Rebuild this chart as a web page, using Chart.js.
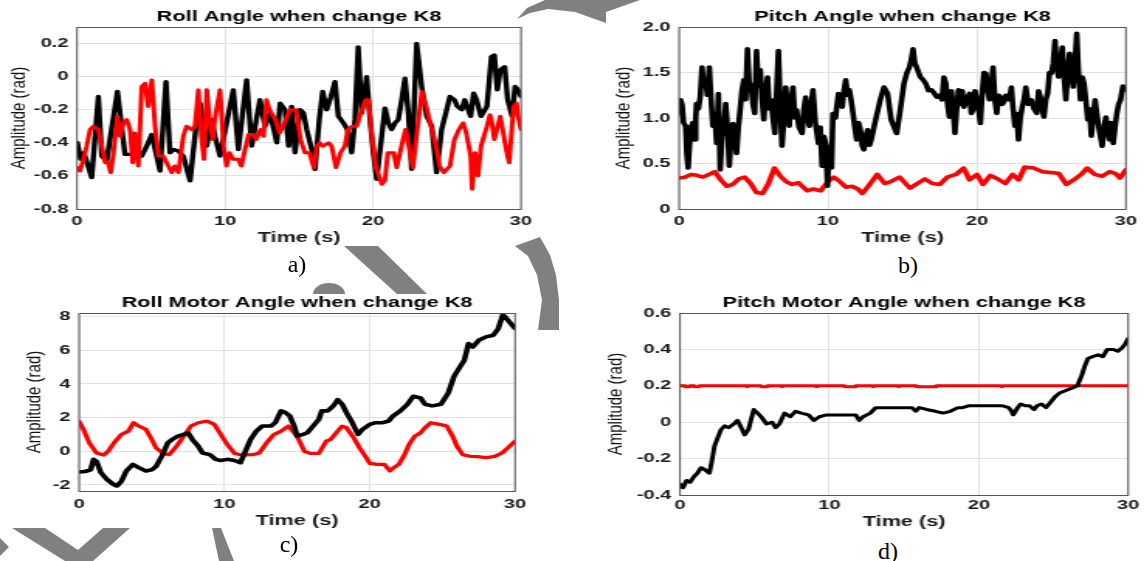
<!DOCTYPE html>
<html>
<head>
<meta charset="utf-8">
<script src="https://cdn.jsdelivr.net/npm/chart.js@4.4.1/dist/chart.umd.min.js"></script>
<style>
  html, body { margin: 0; padding: 0; background: #fff; }
  #page { position: relative; width: 1144px; height: 561px; overflow: hidden; background: #fff; }
  #marks { position: absolute; left: 0; top: 0; }
  .panel { position: absolute; transform-origin: 0 0; transform: scaleX(1.55); }
  .panel canvas { display: block; }
  .cap { position: absolute; font-family: "Liberation Serif", "Times New Roman", serif; font-size: 24px;
         line-height: 1; transform: translate(-50%, -50%); color: #000; }
</style>
</head>
<body>
<div id="page">
  <!-- grey marks of the background, behind the figures -->
  <svg id="marks" width="1144" height="561">
    <g fill="#808080">
      <polygon points="344,246 378,246 427,294 397,294"/>
      <path d="M313,294 A16,11 0 0 1 345,294 Z"/>
      <polygon points="515,246 540,237 550,255 556,275 559,300 559,330 538,330 542,300 537,275 528,256"/>
      <polygon points="517,19 527,8 545,0 640,0 606,12 606,23 575,12 548,9 530,13"/>
      <path fill-rule="evenodd" d="M12,528 L130,528 L93,561 L65,561 Z M45,528 L103,528 L78,550 Z"/>
      <polygon points="0,538 9,547 0,556"/>
      <polygon points="212,528 221,528 234,561 219,561"/>
    </g>
  </svg>
  <div class="panel" style="left:0px;top:0px"><canvas id="chartA" width="348" height="252"></canvas></div>
  <div class="panel" style="left:600px;top:0px"><canvas id="chartB" width="351" height="252"></canvas></div>
  <div class="panel" style="left:0px;top:280px"><canvas id="chartC" width="345" height="255"></canvas></div>
  <div class="panel" style="left:600px;top:280px"><canvas id="chartD" width="351" height="256"></canvas></div>
  <div class="cap" style="left:297px;top:264px">a)</div>
  <div class="cap" style="left:908px;top:265px">b)</div>
  <div class="cap" style="left:289px;top:544px">c)</div>
  <div class="cap" style="left:888px;top:551px">d)</div>
</div>
<script>
// ---- a) Roll Angle
const rollBlackT = [0.02, 0.25, 0.47, 0.99, 1.44, 1.67, 2.0, 2.73, 3.24, 3.58, 4.37, 4.71, 5.05, 5.61, 6.01, 6.28, 6.51, 6.85, 7.18, 7.64,
  8.09, 8.31, 8.54, 8.76, 9.1, 9.32, 9.66, 10.56, 10.9, 11.46, 11.8, 12.36, 12.7, 13.04, 13.5, 13.72, 14.05, 14.3, 14.5, 14.73,
  15.07, 15.3, 15.52, 15.86, 16.08, 16.37, 16.6, 16.87, 17.16, 17.43, 17.66, 18.0, 18.27, 18.56, 18.78, 19.0, 19.23, 19.57, 19.8, 20.02,
  20.25, 20.59, 20.81, 21.04, 21.26, 21.49, 21.71, 21.94, 22.16, 22.39, 22.61, 22.95, 23.29, 23.63, 23.97, 24.3, 24.64, 24.98, 25.2, 25.5,
  25.7, 26.0, 26.2, 26.6, 26.8, 27.0, 27.3, 27.7, 28.0, 28.2, 28.4, 28.6, 28.9, 29.1, 29.4, 29.6, 29.8, 30];
const rollBlack = [-0.40, -0.50, -0.46, -0.61, -0.12, -0.48, -0.51, -0.09, -0.47, -0.47, -0.48, -0.42, -0.35, -0.57, -0.03, -0.46, -0.44, -0.45, -0.48, -0.63,
  -0.26, -0.16, -0.30, -0.42, -0.26, -0.36, -0.48, -0.08, -0.44, -0.02, -0.42, -0.14, -0.30, -0.22, -0.40, -0.16, -0.20, -0.42, -0.18, -0.46,
  -0.20, -0.22, -0.32, -0.44, -0.56, -0.26, -0.09, -0.20, -0.12, -0.03, -0.24, -0.28, -0.32, -0.46, -0.26, 0.18, -0.22, 0.00, -0.26, -0.46,
  -0.62, -0.36, -0.19, -0.28, -0.32, -0.28, -0.26, -0.14, -0.01, -0.22, -0.56, 0.20, -0.06, -0.24, -0.30, -0.58, -0.32, -0.20, -0.12, -0.14,
  -0.18, -0.20, -0.14, -0.24, -0.10, -0.14, -0.24, -0.18, 0.12, 0.13, -0.08, 0.04, 0.06, -0.14, -0.24, -0.06, -0.08, -0.12];
const rollRedT = [0.02, 0.2, 0.43, 0.65, 0.88, 1.1, 1.44, 1.67, 1.9, 2.1, 2.27, 2.45, 2.73, 2.9, 3.13, 3.36, 3.58, 3.76, 3.9, 4.14,
  4.37, 4.6, 4.8, 5.05, 5.27, 5.5, 5.83, 6.06, 6.4, 6.6, 6.85, 7.18, 7.4, 7.75, 7.97, 8.2, 8.4, 8.58, 8.76, 9.0,
  9.17, 9.3, 9.66, 9.9, 10.1, 10.3, 10.56, 10.9, 11.1, 11.35, 11.6, 11.9, 12.1, 12.4, 12.6, 12.8, 13.0, 13.4, 13.7, 14.0,
  14.4, 14.8, 15.1, 15.4, 15.7, 16.0, 16.2, 16.4, 16.6, 17.0, 17.2, 17.5, 17.8, 18.1, 18.3, 18.6, 18.9, 19.1, 19.5, 19.7,
  19.9, 20.2, 20.6, 20.8, 21.0, 21.4, 21.6, 22.0, 22.2, 22.5, 22.7, 23.1, 23.3, 23.6, 23.8, 24.1, 24.3, 24.5, 24.8, 25.2,
  25.5, 25.8, 26.1, 26.3, 26.6, 26.7, 26.9, 27.1, 27.3, 27.7, 27.9, 28.0, 28.2, 28.6, 28.8, 29.0, 29.2, 29.5, 29.7, 29.8, 30];
const rollRed = [-0.55, -0.57, -0.50, -0.42, -0.32, -0.30, -0.32, -0.42, -0.52, -0.52, -0.58, -0.47, -0.24, -0.36, -0.28, -0.26, -0.32, -0.52, -0.34, -0.54,
  -0.06, -0.04, -0.18, -0.02, -0.30, -0.48, -0.48, -0.52, -0.58, -0.54, -0.58, -0.36, -0.30, -0.32, -0.30, -0.08, -0.36, -0.50, -0.08, -0.30,
  -0.38, -0.26, -0.08, -0.42, -0.54, -0.46, -0.50, -0.50, -0.54, -0.44, -0.35, -0.35, -0.38, -0.32, -0.36, -0.14, -0.20, -0.26, -0.34, -0.28,
  -0.20, -0.20, -0.38, -0.46, -0.46, -0.55, -0.42, -0.40, -0.42, -0.40, -0.42, -0.55, -0.46, -0.42, -0.32, -0.30, -0.30, -0.24, -0.14, -0.14,
  -0.34, -0.55, -0.65, -0.63, -0.46, -0.46, -0.55, -0.39, -0.32, -0.46, -0.55, -0.24, -0.09, -0.18, -0.26, -0.36, -0.44, -0.54, -0.58, -0.54,
  -0.38, -0.32, -0.28, -0.34, -0.48, -0.68, -0.46, -0.60, -0.42, -0.30, -0.23, -0.26, -0.38, -0.24, -0.34, -0.44, -0.52, -0.18, -0.16, -0.24, -0.32];

// ---- b) Pitch Angle
const pitchBlackT = [0, 0.1, 0.2, 0.3, 0.44, 0.52, 0.61, 0.7, 0.81, 0.92, 1.05, 1.12, 1.17, 1.3, 1.42, 1.54, 1.65, 1.78, 1.9, 2.03,
  2.15, 2.27, 2.4, 2.52, 2.64, 2.76, 2.88, 3.0, 3.13, 3.25, 3.37, 3.5, 3.62, 3.75, 3.86, 3.98, 4.1, 4.22, 4.35, 4.47,
  4.59, 4.7, 4.84, 4.96, 5.08, 5.2, 5.32, 5.45, 5.57, 5.69, 5.82, 5.94, 6.06, 6.18, 6.3, 6.43, 6.55, 6.67, 6.8, 6.91,
  7.04, 7.16, 7.28, 7.4, 7.52, 7.65, 7.77, 7.89, 8.05, 8.26, 8.38, 8.5, 8.62, 8.75, 8.87, 8.99, 9.15, 9.36, 9.48, 9.6,
  9.72, 9.85, 9.97, 10.05, 10.14, 10.24, 10.33, 10.5, 10.7, 10.82, 10.95, 11.07, 11.19, 11.31, 11.43, 11.55, 11.68, 11.8, 11.92, 12.05,
  12.17, 12.29, 12.41, 12.53, 12.66, 12.78, 12.9, 13.14, 13.51, 13.76, 14.0, 14.24, 14.61, 14.85, 15.1, 15.3, 15.47, 15.6, 15.71, 15.83,
  15.95, 16.08, 16.2, 16.38, 16.56, 16.75, 16.93, 17.1, 17.3, 17.5, 17.66, 17.78, 17.91, 18.03, 18.15, 18.28, 18.4, 18.52, 18.64, 18.76,
  18.9, 19.01, 19.13, 19.3, 19.5, 19.62, 19.74, 19.87, 19.99, 20.11, 20.23, 20.35, 20.47, 20.6, 20.72, 20.84, 20.96, 21.08, 21.2, 21.33,
  21.45, 21.57, 21.7, 21.82, 21.94, 22.06, 22.18, 22.31, 22.43, 22.55, 22.67, 22.79, 22.91, 23.04, 23.16, 23.28, 23.45, 23.65, 23.83, 24.02,
  24.14, 24.26, 24.38, 24.5, 24.62, 24.75, 24.87, 24.99, 25.12, 25.24, 25.36, 25.48, 25.6, 25.73, 25.85, 25.97, 26.1, 26.22, 26.34, 26.46,
  26.58, 26.7, 26.82, 26.95, 27.07, 27.19, 27.31, 27.44, 27.56, 27.68, 27.8, 27.93, 28.05, 28.17, 28.29, 28.41, 28.53, 28.66, 28.78, 28.9,
  29.02, 29.15, 29.27, 29.39, 29.51, 29.64, 29.8, 30];
const pitchBlack = [1.05, 1.20, 1.15, 0.95, 0.91, 0.60, 0.45, 0.70, 0.87, 0.95, 0.76, 1.00, 1.16, 1.10, 1.23, 1.56, 1.35, 1.42, 1.25, 1.56,
  1.20, 0.91, 1.05, 0.72, 1.27, 0.43, 0.80, 0.87, 1.16, 0.90, 0.47, 0.80, 0.94, 0.75, 0.61, 0.90, 1.09, 1.30, 1.42, 1.20,
  1.76, 1.40, 1.34, 1.15, 1.05, 1.74, 1.35, 1.53, 1.20, 0.98, 1.30, 1.45, 1.10, 1.20, 1.00, 0.83, 1.30, 1.74, 1.10, 0.69,
  1.00, 1.34, 1.10, 0.91, 1.20, 1.34, 1.00, 1.09, 0.90, 0.83, 1.10, 1.23, 1.00, 0.91, 1.15, 1.31, 0.95, 0.72, 0.90, 0.47,
  0.80, 0.72, 0.25, 0.60, 0.69, 0.45, 1.05, 1.00, 1.27, 1.15, 1.12, 1.30, 1.42, 1.25, 1.31, 1.20, 1.05, 0.90, 0.76, 0.95,
  0.87, 0.70, 0.65, 0.80, 0.87, 0.70, 0.76, 0.94, 1.20, 1.34, 1.27, 0.98, 0.83, 1.09, 1.38, 1.50, 1.56, 1.65, 1.76, 1.60,
  1.56, 1.50, 1.45, 1.42, 1.38, 1.30, 1.31, 1.28, 1.23, 1.25, 1.20, 1.45, 1.38, 1.15, 1.01, 1.30, 1.12, 0.83, 1.10, 1.31,
  1.15, 1.30, 1.12, 1.20, 1.27, 1.05, 1.09, 1.30, 1.20, 1.10, 0.94, 1.27, 1.50, 1.49, 1.30, 1.20, 1.35, 1.56, 1.20, 1.05,
  1.25, 1.23, 1.15, 1.18, 1.25, 1.23, 1.20, 1.34, 1.10, 0.91, 1.05, 0.76, 1.00, 1.12, 1.20, 1.34, 1.15, 1.20, 1.10, 1.05,
  1.30, 1.23, 1.10, 1.01, 1.20, 1.27, 1.50, 1.49, 1.60, 1.85, 1.55, 1.45, 1.60, 1.78, 1.45, 1.20, 1.50, 1.71, 1.50, 1.34,
  1.60, 1.93, 1.50, 1.20, 1.45, 1.38, 1.20, 0.98, 1.10, 0.80, 1.00, 1.20, 1.05, 0.91, 0.80, 0.69, 0.90, 1.01, 0.85, 0.76,
  0.95, 0.72, 0.90, 1.05, 1.15, 1.20, 1.35, 1.31];
const pitchRedT = [0, 0.4, 0.8, 1.2, 1.6, 2.0, 2.4, 2.8, 3.2, 3.6, 4.0, 4.4, 4.8, 5.2, 5.6, 6.0, 6.4, 6.8, 7.2, 7.6,
  8.0, 8.6, 9.0, 9.5, 10.0, 10.4, 10.8, 11.2, 11.6, 12.0, 12.3, 12.7, 13.3, 13.8, 14.2, 14.8, 15.5, 16.0, 16.5, 17.0,
  17.5, 18.0, 18.6, 19.1, 19.5, 20.0, 20.4, 20.9, 21.4, 21.9, 22.4, 22.8, 23.2, 23.8, 24.4, 25.0, 25.5, 26.0, 26.5, 27.0,
  27.4, 27.9, 28.4, 28.9, 29.3, 29.6, 30];
const pitchRed = [0.34, 0.35, 0.38, 0.37, 0.35, 0.38, 0.41, 0.32, 0.25, 0.27, 0.33, 0.35, 0.28, 0.18, 0.17, 0.28, 0.45, 0.36, 0.30, 0.27,
  0.29, 0.20, 0.22, 0.20, 0.30, 0.35, 0.30, 0.24, 0.25, 0.22, 0.17, 0.25, 0.38, 0.28, 0.30, 0.35, 0.23, 0.28, 0.33, 0.28,
  0.27, 0.35, 0.38, 0.45, 0.32, 0.38, 0.27, 0.37, 0.33, 0.28, 0.38, 0.32, 0.46, 0.45, 0.41, 0.40, 0.39, 0.27, 0.32, 0.38,
  0.45, 0.38, 0.36, 0.41, 0.39, 0.34, 0.43];

// ---- c) Roll Motor Angle
const rollMotorBlackT = [0, 0.4, 0.8, 1.0, 1.2, 1.5, 1.9, 2.35, 2.6, 2.9, 3.25, 3.7, 4.1, 4.6, 5.0, 5.3, 5.7, 6.1, 6.4, 6.8,
  7.2, 7.5, 7.8, 8.2, 8.5, 9.0, 9.4, 9.75, 10.2, 10.7, 11.1, 11.5, 11.8, 12.2, 12.6, 13.2, 13.5, 13.9, 14.2, 14.5,
  14.8, 15.0, 15.4, 15.7, 16.1, 16.5, 16.7, 17.1, 17.5, 17.8, 18.1, 18.4, 18.8, 19.2, 19.5, 20.0, 20.4, 20.9, 21.3, 21.6,
  22.1, 22.6, 23.0, 23.5, 23.8, 24.3, 24.9, 25.4, 25.8, 26.2, 26.5, 26.8, 27.1, 27.5, 28.0, 28.5, 28.85, 29.15, 29.3, 29.7, 30];
const rollMotorBlack = [-1.23, -1.2, -1.1, -0.48, -0.6, -1.27, -1.66, -1.96, -2.06, -1.8, -1.17, -0.78, -0.97, -1.17, -1.1, -0.9, -0.28, 0.5, 0.7, 0.9,
  1.0, 1.1, 0.7, 0.3, -0.1, -0.2, -0.48, -0.55, -0.48, -0.55, -0.68, 0.1, 0.7, 1.2, 1.5, 1.5, 1.7, 2.4, 2.3, 2.1,
  1.5, 0.9, 1.0, 1.1, 1.5, 1.9, 2.4, 2.4, 2.7, 3.07, 2.8, 2.3, 1.7, 1.0, 1.3, 1.6, 1.7, 1.7, 1.8, 2.1,
  2.4, 2.8, 3.27, 3.17, 2.8, 2.7, 2.8, 3.46, 4.45, 5.0, 5.4, 6.4, 6.2, 6.6, 6.8, 6.9, 7.3, 8.1, 8.0, 7.6, 7.3];
const rollMotorRedT = [0, 0.3, 0.7, 1.2, 1.7, 2.0, 2.4, 2.9, 3.4, 3.75, 4.1, 4.6, 5.0, 5.3, 5.8, 6.2, 6.7, 7.2, 7.7, 8.2,
  8.8, 9.3, 9.75, 10.2, 10.7, 11.2, 11.95, 12.4, 12.9, 13.4, 13.9, 14.4, 15.0, 15.5, 15.9, 16.5, 17.0, 17.3, 17.7, 18.1,
  18.4, 18.9, 19.3, 19.7, 20.0, 20.5, 21.0, 21.4, 21.6, 22.0, 22.4, 22.7, 23.1, 23.5, 23.8, 24.2, 24.8, 25.3, 25.7, 26.0,
  26.4, 26.9, 27.4, 28.0, 28.6, 29.1, 29.5, 30];
const rollMotorRed = [1.78, 1.3, 0.5, -0.1, -0.22, 0.0, 0.5, 1.0, 1.2, 1.7, 1.5, 1.3, 0.7, 0.2, -0.13, -0.2, 0.3, 0.9, 1.5, 1.7,
  1.8, 1.6, 1.0, 0.4, -0.13, -0.22, -0.2, -0.1, 0.5, 1.0, 1.2, 1.5, 0.9, 0.0, -0.13, -0.13, 0.6, 0.7, 1.1, 1.5,
  1.4, 0.8, 0.2, -0.3, -0.72, -0.78, -0.78, -1.17, -1.0, -0.78, -0.2, 0.4, 0.9, 1.1, 1.4, 1.7, 1.6, 1.5, 0.9, 0.3,
  -0.2, -0.3, -0.32, -0.38, -0.3, -0.1, 0.2, 0.6];

// ---- d) Pitch Motor Angle
const pitchMotorBlackT = [0, 0.2, 0.44, 0.68, 0.92, 1.17, 1.41, 1.65, 1.97, 2.14, 2.31, 2.5, 2.75, 3.0, 3.24, 3.6, 3.85, 4.1, 4.33, 4.58,
  4.94, 5.19, 5.43, 5.8, 6.17, 6.4, 6.65, 7.0, 7.38, 7.74, 8.11, 8.6, 8.96, 9.33, 9.81, 10.8, 11.76, 12.0, 12.25, 12.74,
  13.1, 13.7, 14.44, 15.53, 15.78, 16.0, 16.5, 17.1, 17.6, 18.1, 18.6, 18.9, 19.3, 19.8, 20.5, 21.2, 21.6, 22.0, 22.2, 22.3,
  22.6, 22.8, 23.1, 23.4, 23.7, 23.9, 24.2, 24.5, 24.8, 25.1, 25.4, 25.7, 26.0, 26.3, 26.6, 26.9, 27.1, 27.3, 27.6, 28.0,
  28.3, 28.6, 29.0, 29.3, 29.6, 29.8, 30];
const pitchMotorBlack = [-0.34, -0.36, -0.32, -0.33, -0.30, -0.28, -0.25, -0.26, -0.28, -0.21, -0.13, -0.09, -0.04, -0.02, -0.03, -0.01, 0.01, -0.03, -0.07, -0.04,
  0.07, 0.05, 0.03, -0.01, 0.00, -0.03, -0.01, 0.05, 0.03, 0.06, 0.05, 0.04, 0.01, 0.03, 0.04, 0.04, 0.04, 0.01, 0.03, 0.05,
  0.08, 0.08, 0.08, 0.08, 0.06, 0.08, 0.07, 0.06, 0.05, 0.06, 0.08, 0.08, 0.09, 0.09, 0.09, 0.09, 0.09, 0.08, 0.06, 0.04,
  0.08, 0.10, 0.09, 0.09, 0.07, 0.09, 0.10, 0.08, 0.11, 0.14, 0.16, 0.17, 0.18, 0.19, 0.20, 0.26, 0.31, 0.35, 0.36, 0.37,
  0.36, 0.40, 0.40, 0.39, 0.41, 0.43, 0.46];
const pitchMotorRedT = [0, 0.3, 0.35, 0.6, 0.65, 0.9, 0.95, 1.25, 1.3, 4.45, 4.5, 4.6, 5.4, 5.45, 5.8, 5.85, 6.8, 6.85, 6.95, 9.1,
  9.15, 9.25, 11.0, 11.05, 11.7, 11.75, 12.9, 12.95, 13.05, 14.6, 14.65, 14.75, 15.8, 15.85, 17.1, 17.15, 21.5, 21.55, 21.65, 30];
const pitchMotorRed = [0.2, 0.2, 0.195, 0.195, 0.2, 0.2, 0.195, 0.195, 0.2, 0.2, 0.195, 0.2, 0.2, 0.195, 0.195, 0.2, 0.2, 0.195, 0.2, 0.2,
  0.195, 0.2, 0.2, 0.195, 0.195, 0.2, 0.2, 0.195, 0.2, 0.2, 0.195, 0.2, 0.2, 0.195, 0.195, 0.2, 0.2, 0.195, 0.2, 0.2];

const STRETCH = 1.55;   // the panels are drawn narrow then widened by css
const FONT = '"Liberation Sans", Arial, Helvetica, sans-serif';

function pts(ts, vs) {
  return ts.map((t, i) => ({ x: t, y: vs[i] }));
}

// y axis title, drawn less stretched than the rest
const yTitlePlugin = {
  id: 'yTitle',
  afterDraw(chart, args, opts) {
    const { ctx, chartArea } = chart;
    ctx.save();
    ctx.translate(opts.x, (chartArea.top + chartArea.bottom) / 2);
    ctx.scale(0.85, 1);
    ctx.rotate(-Math.PI / 2);
    ctx.font = '15px ' + FONT;
    ctx.fillStyle = '#111';
    ctx.textAlign = 'center';
    ctx.textBaseline = 'middle';
    ctx.fillText(opts.text, 0, 0);
    ctx.restore();
  }
};

// box around the axes
const plotBoxPlugin = {
  id: 'plotBox',
  afterDraw(chart) {
    const { ctx, chartArea: a } = chart;
    ctx.save();
    ctx.strokeStyle = '#555';
    ctx.lineWidth = 1;
    ctx.strokeRect(a.left, a.top + 0.5, a.right - a.left, a.bottom - a.top);
    ctx.restore();
  }
};

function makeChart(id, o) {
  const black = { data: o.black, borderColor: '#000', borderWidth: o.blackW };
  const red = { data: o.red, borderColor: '#ff0000', borderWidth: o.redW };
  const sets = o.redOnTop ? [red, black] : [black, red];
  sets.forEach(d => {
    d.pointRadius = 0;
    d.tension = 0;
    d.borderJoinStyle = 'round';
    d.borderCapStyle = 'round';
    d.fill = false;
  });

  new Chart(document.getElementById(id).getContext('2d'), {
    type: 'line',
    data: { datasets: sets },
    options: {
      responsive: false,
      animation: false,
      events: [],
      layout: { padding: { left: 0, right: o.padR, top: 0, bottom: 0 } },
      plugins: {
        legend: { display: false },
        tooltip: { enabled: false },
        title: {
          display: true,
          text: o.title,
          fullSize: false,
          color: '#000',
          font: { family: FONT, size: 14, weight: 'bold' },
          padding: { top: o.titlePad[0], bottom: o.titlePad[1] }
        },
        yTitle: { text: 'Amplitude (rad)', x: o.yTitleX }
      },
      scales: {
        x: {
          type: 'linear',
          min: 0,
          max: 30,
          afterFit: s => { s.height = o.xAxisH; },
          ticks: {
            stepSize: 10,
            maxRotation: 0,
            padding: o.xTickPad,
            color: '#1a1a1a',
            font: { family: FONT, size: 13, weight: 'bold' }
          },
          grid: { color: '#e2e2e2', drawTicks: false },
          border: { display: false },
          title: {
            display: true,
            text: 'Time (s)',
            color: '#1a1a1a',
            font: { family: FONT, size: 14, weight: 'bold' },
            padding: { top: 0, bottom: o.xTitlePad }
          }
        },
        y: {
          type: 'linear',
          min: o.yMin,
          max: o.yMax,
          afterFit: s => { s.width = o.yAxisW; },
          ticks: {
            stepSize: o.yStep,
            includeBounds: false,
            padding: 5.5,
            color: '#1a1a1a',
            font: { family: FONT, size: 13, weight: 'bold' }
          },
          grid: { color: '#e2e2e2', drawTicks: false },
          border: { display: false }
        }
      }
    },
    plugins: [yTitlePlugin, plotBoxPlugin]
  });
}

makeChart('chartA', {
  title: 'Roll Angle when change K8',
  black: pts(rollBlackT, rollBlack), red: pts(rollRedT, rollRed),
  redOnTop: true, blackW: 3.4, redW: 3.0,
  yMin: -0.8, yMax: 0.3, yStep: 0.2,
  yAxisW: 49.7, padR: 11.9, titlePad: [8.6, 1.6],
  xTickPad: 4.5, xAxisH: 43, xTitlePad: 5.6, yTitleX: 12.9
});

makeChart('chartB', {
  title: 'Pitch Angle when change K8',
  black: pts(pitchBlackT, pitchBlack), red: pts(pitchRedT, pitchRed),
  redOnTop: false, blackW: 3.6, redW: 3.6,
  yMin: 0, yMax: 2, yStep: 0.5,
  yAxisW: 51.0, padR: 9.7, titlePad: [8.6, 1.6],
  xTickPad: 4.5, xAxisH: 43, xTitlePad: 5.6, yTitleX: 15.5
});

makeChart('chartC', {
  title: 'Roll Motor Angle when change K8',
  black: pts(rollMotorBlackT, rollMotorBlack), red: pts(rollMotorRedT, rollMotorRed),
  redOnTop: false, blackW: 3.6, redW: 3.2,
  yMin: -2.36, yMax: 8.22, yStep: 2,
  yAxisW: 51.0, padR: 11.5, titlePad: [14.6, 1.6],
  xTickPad: 5.5, xAxisH: 44, xTitlePad: 5.6, yTitleX: 22.6
});

makeChart('chartD', {
  title: 'Pitch Motor Angle when change K8',
  black: pts(pitchMotorBlackT, pitchMotorBlack), red: pts(pitchMotorRedT, pitchMotorRed),
  redOnTop: false, blackW: 3.0, redW: 3.0,
  yMin: -0.4, yMax: 0.6, yStep: 0.2,
  yAxisW: 51.6, padR: 9.1, titlePad: [14.6, 1.6],
  xTickPad: 3, xAxisH: 41, xTitlePad: 5.1, yTitleX: 10.3
});
</script>
</body>
</html>
